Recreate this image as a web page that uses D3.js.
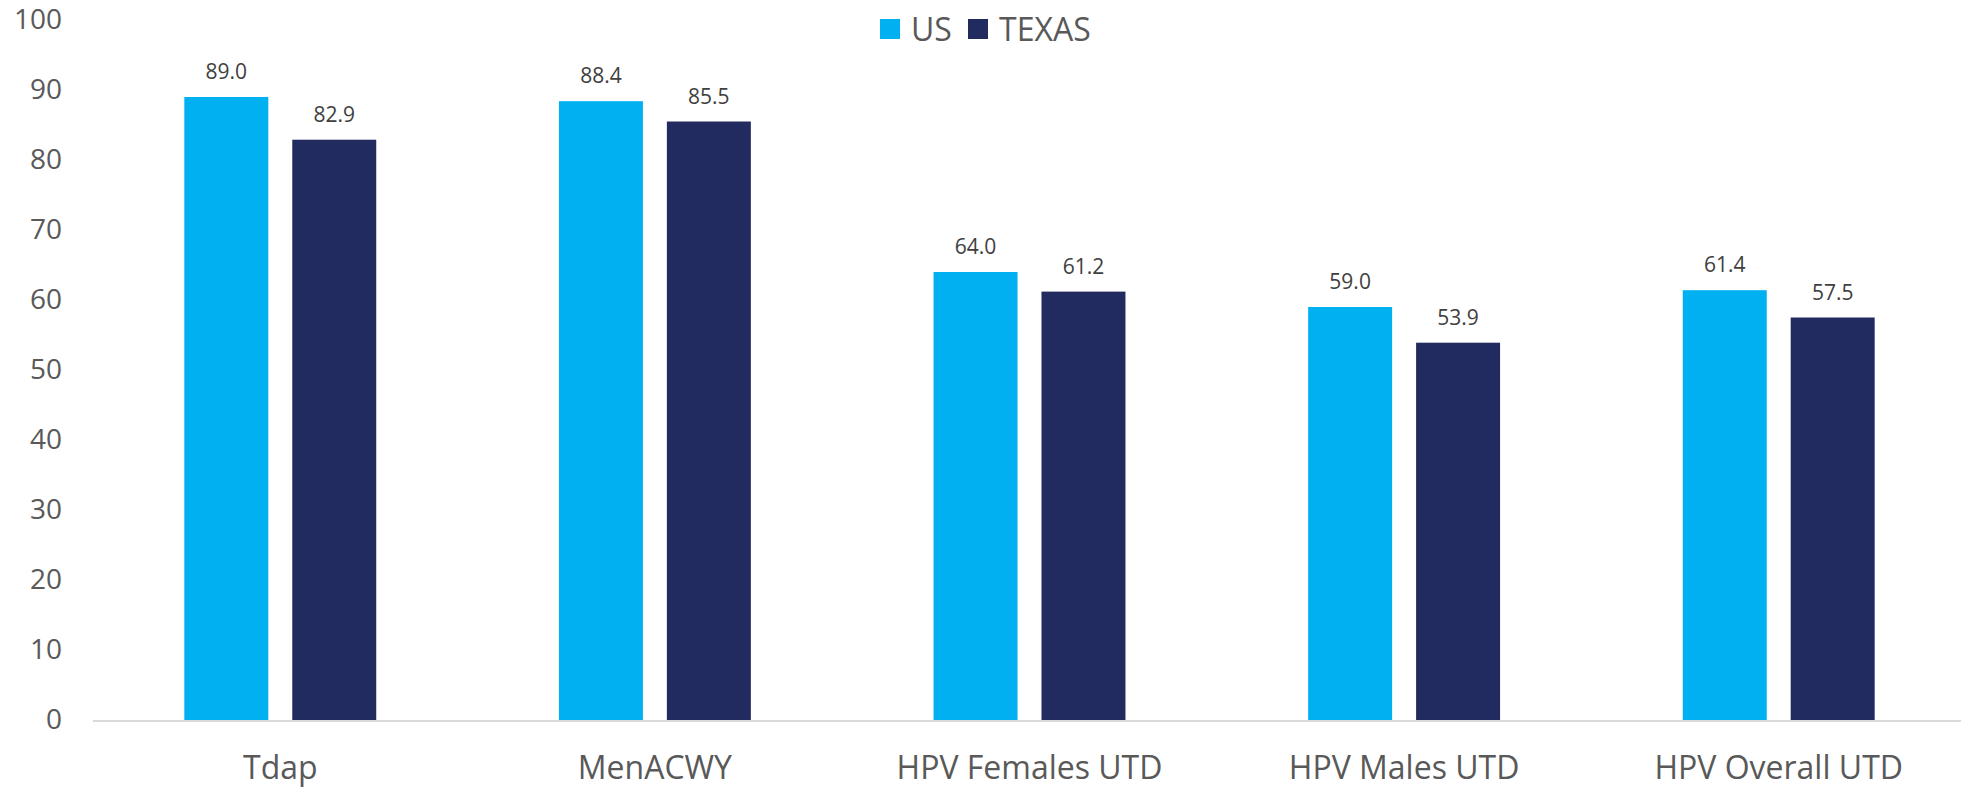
<!DOCTYPE html>
<html>
<head>
<meta charset="utf-8">
<script src="https://cdn.jsdelivr.net/npm/d3@7"></script>
<style>
  body { margin: 0; background: #fff; }
  text { font-family: "Open Sans", sans-serif; }
</style>
</head>
<body>
<svg id="chart" width="1961" height="789"></svg>
<script>
// chart values
const categories = ["Tdap", "MenACWY", "HPV Females UTD", "HPV Males UTD", "HPV Overall UTD"];
const seriesNames = ["US", "TEXAS"];
const usValues = [89.0, 88.4, 64.0, 59.0, 61.4];
const texasValues = [82.9, 85.5, 61.2, 53.9, 57.5];
const yTicks = [0, 10, 20, 30, 40, 50, 60, 70, 80, 90, 100];

const colors = { US: "#00B0F0", TEXAS: "#222B60" };

const svg = d3.select("#chart");

// scales
const y = d3.scaleLinear().domain([0, 100]).range([720, 20]);
const x0 = d3.scaleBand().domain(categories).range([93, 1966])
    .paddingInner(0.4877).paddingOuter(0.2438);
const x1 = d3.scaleBand().domain(seriesNames).range([0, x0.bandwidth()])
    .paddingInner(0.222).paddingOuter(0);

// build rows from the arrays
const rows = categories.map((c, i) => ({
    category: c,
    values: [
        { series: "US", value: usValues[i] },
        { series: "TEXAS", value: texasValues[i] }
    ]
}));

// y axis labels, no line or ticks
const yAxis = svg.append("g")
    .attr("transform", "translate(62,0)")
    .call(d3.axisLeft(y).tickValues(yTicks).tickSize(0).tickPadding(0));
yAxis.select(".domain").remove();
yAxis.selectAll("text")
    .attr("fill", "#595959")
    .style("font-size", "28px")
    .style("font-family", "'Open Sans', sans-serif");

// bars
const groups = svg.append("g").selectAll("g")
    .data(rows)
    .join("g")
    .attr("transform", d => `translate(${x0(d.category)},0)`);

groups.selectAll("rect")
    .data(d => d.values)
    .join("rect")
    .attr("x", d => x1(d.series))
    .attr("y", d => y(d.value))
    .attr("width", x1.bandwidth())
    .attr("height", d => y(0) - y(d.value))
    .attr("fill", d => colors[d.series]);

// data labels
groups.selectAll("text.val")
    .data(d => d.values)
    .join("text")
    .attr("class", "val")
    .attr("x", d => x1(d.series) + x1.bandwidth() / 2)
    .attr("y", d => y(d.value) - 18)
    .attr("text-anchor", "middle")
    .attr("fill", "#404040")
    .style("font-size", "21px")
    .text(d => d.value.toFixed(1));

// x axis line + category labels
const xAxis = svg.append("g")
    .attr("transform", `translate(0,${y(0) + 1})`)
    .call(d3.axisBottom(x0).tickSize(0).tickPadding(0));
xAxis.select(".domain").attr("stroke", "#D9D9D9").attr("stroke-width", 2)
    .attr("d", "M93,0H1966");
xAxis.selectAll("text")
    .attr("y", 58)
    .attr("dy", 0)
    .attr("fill", "#595959")
    .style("font-size", "32px")
    .style("font-family", "'Open Sans', sans-serif");

// legend
const legend = svg.append("g").attr("transform", "translate(880,19)");
const legendX = { US: 0, TEXAS: 88 };
seriesNames.forEach(s => {
    const lg = legend.append("g").attr("transform", `translate(${legendX[s]},0)`);
    lg.append("rect").attr("width", 20).attr("height", 20).attr("fill", colors[s]);
    lg.append("text")
        .attr("x", 31)
        .attr("y", 22)
        .attr("fill", "#595959")
        .style("font-size", "32px")
        .text(s);
});
</script>
</body>
</html>
